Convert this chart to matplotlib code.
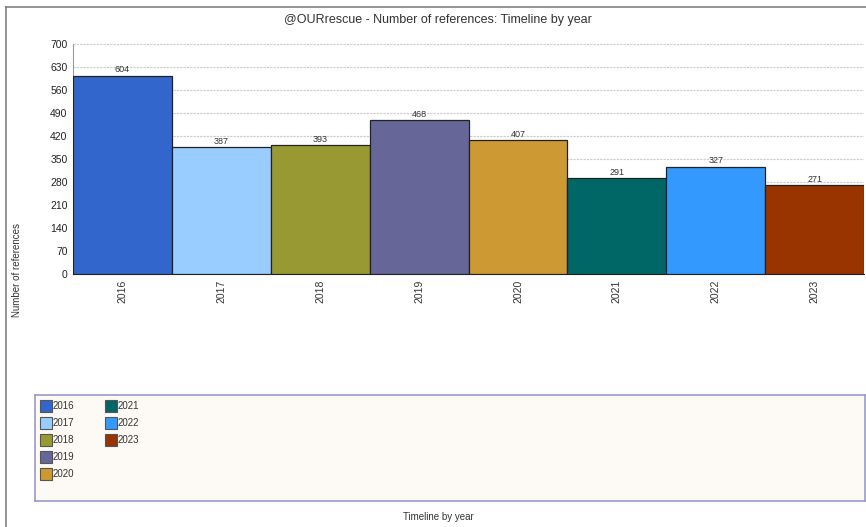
import matplotlib
import matplotlib.pyplot as plt
from matplotlib.patches import Rectangle

matplotlib.use('Agg')
plt.rcParams['font.family'] = ['Liberation Sans', 'DejaVu Sans']

years = ['2016', '2017', '2018', '2019', '2020', '2021', '2022', '2023']
refs = [604, 387, 393, 468, 407, 291, 327, 271]
colors = ['#3366CC', '#99CCFF', '#999933', '#666699',
          '#CC9933', '#006666', '#3399FF', '#993300']
yticks = list(range(0, 701, 70))

fig = plt.figure(figsize=(8.66, 5.27), dpi=100)

# outer frame lines (top and left)
fig.add_artist(plt.Line2D([6 / 866, 6 / 866], [0, 1 - 7 / 527], color='#808080', lw=1.2))
fig.add_artist(plt.Line2D([6 / 866, 1], [1 - 7 / 527, 1 - 7 / 527], color='#808080', lw=1.2))

ax = fig.add_axes([73 / 866, 1 - 274 / 527, 791 / 866, 230 / 527])
x = range(len(years))
bars = ax.bar(x, refs, width=1.0, color=colors, edgecolor='#222222', linewidth=0.9, zorder=3)
for b, v in zip(bars, refs):
    ax.text(b.get_x() + b.get_width() / 2, v + 4, str(v), ha='center', va='bottom',
            fontsize=6.5, color='#333333', zorder=4)

ax.set_xlim(-0.5, len(years) - 0.5)
ax.set_ylim(0, 700)
ax.set_yticks(yticks)
ax.set_yticklabels([str(t) for t in yticks], fontsize=7.5, color='#222222')
ax.set_xticks(list(x))
ax.set_xticklabels(years, rotation=90, fontsize=7.5, color='#333333')
ax.tick_params(axis='both', length=0, pad=4)
ax.yaxis.grid(True, linestyle=(0, (2, 1)), color='#cccccc', linewidth=0.8, zorder=0)
for s in ['top', 'right']:
    ax.spines[s].set_visible(False)
ax.spines['left'].set_color('#999999')
ax.spines['bottom'].set_color('#222222')

fig.text(438 / 866, 1 - 20 / 527, '@OURrescue - Number of references: Timeline by year',
         ha='center', va='center', fontsize=9, color='#333333')
fig.text(17 / 866, 1 - 270 / 527, 'Number of references', rotation=90,
         ha='center', va='center', fontsize=7, color='#333333')
fig.text(438 / 866, 1 - 517 / 527, 'Timeline by year', ha='center', va='center',
         fontsize=7, color='#333333')

# legend box, 5 rows per column
lax = fig.add_axes([35 / 866, 1 - 501 / 527, 830 / 866, 106 / 527])
lax.set_xlim(0, 830)
lax.set_ylim(106, 0)
lax.set_facecolor('#FDFAF5')
lax.set_xticks([])
lax.set_yticks([])
for s in lax.spines.values():
    s.set_color('#9999CC')
    s.set_linewidth(1.2)
for i, (lab, c) in enumerate(zip(years, colors)):
    col, row = divmod(i, 5)
    px = 5 + col * 65
    py = 5 + row * 17
    lax.add_patch(Rectangle((px, py), 12, 12, facecolor=c, edgecolor='#555555', lw=0.8))
    lax.text(px + 13, py + 6, lab, va='center', ha='left', fontsize=7, color='#333333')

fig.savefig('out.png', dpi=100)
